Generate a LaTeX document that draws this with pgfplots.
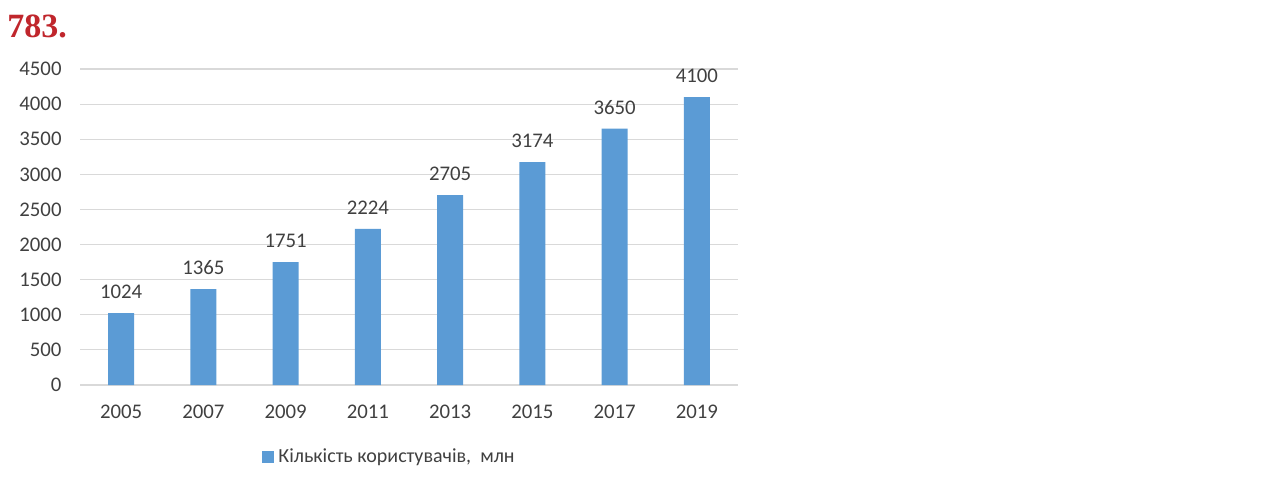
\documentclass[border=0pt]{standalone}
\usepackage{pgfplots}
\pgfplotsset{compat=1.18}
\usepackage{fontspec}
\setmainfont{Carlito}
\newfontfamily\titlefont{Liberation Serif}
\definecolor{barblue}{HTML}{5B9BD5}
\definecolor{gridgray}{HTML}{D9D9D9}
\definecolor{txt}{HTML}{404040}
\definecolor{titlered}{HTML}{C0262C}
\begin{document}
\begin{tikzpicture}
\useasboundingbox (0,0) rectangle (638.5pt,244pt);
\node[anchor=base west, inner sep=0pt, text=titlered, font=\titlefont\bfseries\fontsize{17}{17}\selectfont] at (3.5pt,225pt) {783.};
\begin{axis}[
  at={(40pt,51.5pt)}, anchor=south west,
  scale only axis, width=329pt, height=158pt,
  xmin=-0.5, xmax=7.5, ymin=0, ymax=4500,
  ytick={0,500,...,4500},
  xtick={0,...,7},
  xticklabels={2005,2007,2009,2011,2013,2015,2017,2019},
  axis line style={draw=none},
  major tick length=0pt,
  ymajorgrids, grid style={gridgray, line width=0.6pt},
  tick label style={font=\fontsize{10.4}{12}\selectfont, text=txt},
  yticklabel style={xshift=-5.7pt},
  xticklabel style={yshift=-6.4pt},
  /pgf/number format/assume math mode=true,
  /pgf/number format/1000 sep={},
  ybar, bar width=13pt,
  nodes near coords,
  every node near coord/.append style={font=\fontsize{10.4}{12}\selectfont, text=txt, anchor=south, yshift=3.7pt},
  legend style={draw=none, at={(0.2766,-0.228)}, anchor=west, font=\fontsize{10}{12}\selectfont, text=txt, inner sep=0pt},
  legend image code/.code={\fill[barblue] (0pt,-3pt) rectangle (6pt,3pt);},
]
\addplot[fill=barblue, draw=none] coordinates {
(0,1024) (1,1365) (2,1751) (3,2224) (4,2705) (5,3174) (6,3650) (7,4100)};
\addlegendentry{Кількість користувачів,\ \ млн}
\end{axis}
\end{tikzpicture}
\end{document}
